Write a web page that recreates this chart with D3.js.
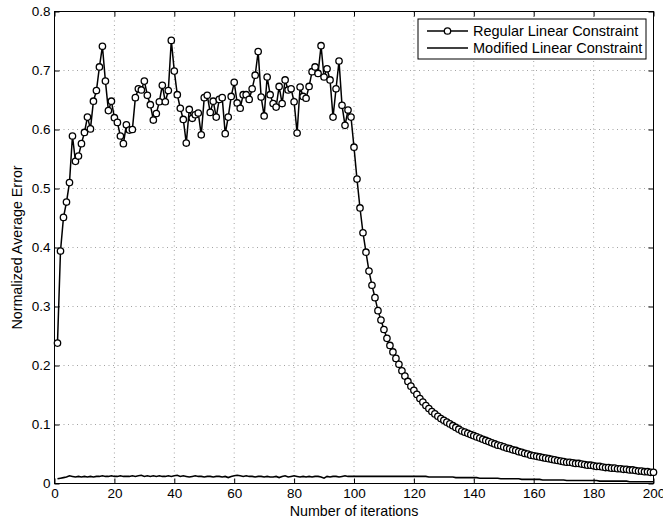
<!DOCTYPE html>
<html>
<head>
<meta charset="utf-8">
<script src="https://cdn.jsdelivr.net/npm/d3@7"></script>
<style>
  body { margin: 0; background: #fff; }
  svg text { font-family: "Liberation Sans", Arial, Helvetica, sans-serif; }
</style>
</head>
<body>
<div id="chart"></div>
<script>
// iteration numbers 1..200
const iterations = d3.range(1, 201);

// Regular Linear Constraint (10 per row)
const regular = [
  0.238,0.394,0.451,0.477,0.510,0.589,0.546,0.555,0.576,0.595,
  0.621,0.601,0.648,0.666,0.706,0.741,0.682,0.632,0.648,0.620,
  0.612,0.589,0.576,0.608,0.599,0.600,0.654,0.669,0.667,0.682,
  0.658,0.642,0.616,0.627,0.647,0.675,0.647,0.666,0.751,0.699,
  0.659,0.636,0.617,0.577,0.634,0.619,0.625,0.628,0.591,0.654,
  0.658,0.629,0.648,0.621,0.651,0.654,0.593,0.621,0.656,0.680,
  0.645,0.636,0.659,0.659,0.651,0.669,0.692,0.732,0.655,0.623,
  0.689,0.659,0.644,0.638,0.673,0.644,0.684,0.667,0.669,0.647,
  0.594,0.672,0.656,0.653,0.673,0.698,0.706,0.695,0.742,0.689,
  0.703,0.684,0.621,0.669,0.716,0.641,0.607,0.633,0.621,0.570,
  0.516,0.467,0.425,0.392,0.360,0.336,0.315,0.293,0.277,0.261,
  0.246,0.234,0.223,0.212,0.202,0.191,0.182,0.173,0.165,0.158,
  0.151,0.144,0.138,0.132,0.127,0.122,0.118,0.114,0.110,0.107,
  0.104,0.101,0.098,0.095,0.092,0.089,0.087,0.085,0.083,0.081,
  0.079,0.077,0.075,0.073,0.071,0.069,0.067,0.065,0.064,0.062,
  0.060,0.059,0.057,0.056,0.054,0.053,0.051,0.050,0.048,0.047,
  0.046,0.045,0.044,0.043,0.042,0.041,0.040,0.039,0.038,0.037,
  0.036,0.036,0.035,0.034,0.034,0.033,0.032,0.031,0.031,0.030,
  0.029,0.029,0.028,0.027,0.027,0.026,0.026,0.025,0.025,0.024,
  0.024,0.023,0.023,0.022,0.021,0.021,0.020,0.020,0.019,0.019
];

// Modified Linear Constraint
const modified = [
  0.008,0.009,0.010,0.011,0.013,0.012,0.011,0.012,0.011,0.012,
  0.011,0.012,0.011,0.012,0.012,0.013,0.012,0.012,0.013,0.012,
  0.012,0.013,0.012,0.012,0.012,0.013,0.012,0.013,0.014,0.012,
  0.013,0.012,0.013,0.012,0.013,0.012,0.012,0.013,0.012,0.013,
  0.014,0.012,0.013,0.012,0.011,0.012,0.013,0.012,0.012,0.011,
  0.012,0.012,0.011,0.012,0.012,0.011,0.012,0.010,0.012,0.013,
  0.014,0.013,0.012,0.013,0.012,0.012,0.011,0.012,0.012,0.011,
  0.012,0.011,0.011,0.012,0.010,0.012,0.013,0.011,0.012,0.013,
  0.012,0.011,0.012,0.011,0.012,0.011,0.012,0.012,0.011,0.009,
  0.012,0.011,0.012,0.012,0.011,0.012,0.013,0.012,0.012,0.012,
  0.012,0.012,0.012,0.012,0.012,0.012,0.012,0.012,0.012,0.012,
  0.012,0.012,0.012,0.012,0.012,0.012,0.012,0.012,0.012,0.012,
  0.012,0.012,0.012,0.012,0.011,0.011,0.011,0.011,0.011,0.011,
  0.011,0.011,0.011,0.010,0.010,0.010,0.010,0.010,0.010,0.010,
  0.010,0.009,0.009,0.009,0.009,0.009,0.009,0.009,0.008,0.008,
  0.008,0.008,0.008,0.008,0.008,0.007,0.007,0.007,0.007,0.007,
  0.007,0.007,0.006,0.006,0.006,0.006,0.006,0.006,0.006,0.006,
  0.005,0.005,0.005,0.005,0.005,0.005,0.005,0.005,0.005,0.005,
  0.005,0.004,0.004,0.004,0.004,0.004,0.004,0.004,0.004,0.004,
  0.004,0.003,0.003,0.003,0.003,0.003,0.003,0.003,0.003,0.003
];

const xTicks = [0, 20, 40, 60, 80, 100, 120, 140, 160, 180, 200];
const yTicks = [0, 0.1, 0.2, 0.3, 0.4, 0.5, 0.6, 0.7, 0.8];
const seriesNames = ['Regular Linear Constraint', 'Modified Linear Constraint'];

const chart_width = 663, chart_height = 520;
const plotLeft = 54.5, plotRight = 653.5, plotTop = 11.5, plotBottom = 483.5;

const svg = d3.select('#chart').append('svg')
    .attr('width', chart_width)
    .attr('height', chart_height);

const x_scale = d3.scaleLinear().domain([0, 200]).range([plotLeft, plotRight]);
const y_scale = d3.scaleLinear().domain([0, 0.8]).range([plotBottom, plotTop]);

// dotted grid
const grid = svg.append('g').attr('stroke', '#8c8c8c').attr('stroke-width', 0.8)
    .attr('stroke-dasharray', '1,3.5');
grid.selectAll('.gx').data(xTicks.slice(1, -1)).join('line')
    .attr('x1', d => x_scale(d)).attr('x2', d => x_scale(d))
    .attr('y1', plotTop).attr('y2', plotBottom);
grid.selectAll('.gy').data(yTicks.slice(1, -1)).join('line')
    .attr('y1', d => y_scale(d)).attr('y2', d => y_scale(d))
    .attr('x1', plotLeft).attr('x2', plotRight);

// axes with inward ticks (matlab style)
const fmt = d => d === 0 ? '0' : d3.format('.1f')(d);
svg.append('g').attr('transform', `translate(0,${plotBottom})`)
    .call(d3.axisBottom(x_scale).tickValues(xTicks).tickSizeInner(-5).tickSizeOuter(0).tickPadding(5));
svg.append('g').attr('transform', `translate(${plotLeft},0)`)
    .call(d3.axisLeft(y_scale).tickValues(yTicks).tickFormat(fmt).tickSizeInner(-5).tickSizeOuter(0).tickPadding(4));
svg.append('g').attr('transform', `translate(0,${plotTop})`)
    .call(d3.axisTop(x_scale).tickValues(xTicks).tickSizeInner(-5).tickSizeOuter(0).tickFormat(''));
svg.append('g').attr('transform', `translate(${plotRight},0)`)
    .call(d3.axisRight(y_scale).tickValues(yTicks).tickSizeInner(-5).tickSizeOuter(0).tickFormat(''));

svg.selectAll('.domain').remove();
svg.selectAll('.tick line').attr('stroke', '#000').attr('stroke-width', 1);
svg.selectAll('.tick text').attr('font-size', 13.5).attr('fill', '#000')
    .attr('font-family', '"Liberation Sans", Arial, sans-serif');

// box
svg.append('rect')
    .attr('x', plotLeft).attr('y', plotTop)
    .attr('width', plotRight - plotLeft).attr('height', plotBottom - plotTop)
    .attr('fill', 'none').attr('stroke', '#000').attr('stroke-width', 1);

// lines
const line = d3.line().x((d, i) => x_scale(iterations[i])).y(d => y_scale(d));
svg.append('path').datum(modified)
    .attr('fill', 'none').attr('stroke', '#000').attr('stroke-width', 1.6)
    .attr('d', line);
svg.append('path').datum(regular)
    .attr('fill', 'none').attr('stroke', '#000').attr('stroke-width', 1.5)
    .attr('d', line);
svg.append('g').selectAll('circle').data(regular).join('circle')
    .attr('cx', (d, i) => x_scale(iterations[i]))
    .attr('cy', d => y_scale(d))
    .attr('r', 3.2)
    .attr('fill', '#fff').attr('stroke', '#000').attr('stroke-width', 1.3);

// axis titles
svg.append('text')
    .attr('x', (plotLeft + plotRight) / 2).attr('y', 516)
    .attr('text-anchor', 'middle').attr('font-size', 14.3)
    .text('Number of iterations');
svg.append('text')
    .attr('transform', `translate(22,${(plotTop + plotBottom) / 2}) rotate(-90)`)
    .attr('text-anchor', 'middle').attr('font-size', 14.3)
    .text('Normalized Average Error');

// legend
const legend = svg.append('g');
legend.append('rect')
    .attr('x', 418).attr('y', 19).attr('width', 228).attr('height', 40)
    .attr('fill', '#fff').attr('stroke', '#000').attr('stroke-width', 1);
seriesNames.forEach((name, i) => {
    const ly = 31 + i * 17;
    legend.append('line')
        .attr('x1', 427).attr('x2', 468).attr('y1', ly).attr('y2', ly)
        .attr('stroke', '#000').attr('stroke-width', 1.5);
    if (i === 0) {
        legend.append('circle').attr('cx', 447.5).attr('cy', ly).attr('r', 3.2)
            .attr('fill', '#fff').attr('stroke', '#000').attr('stroke-width', 1.3);
    }
    legend.append('text')
        .attr('x', 473).attr('y', ly).attr('dy', '0.35em')
        .attr('font-size', 14.5)
        .text(name);
});
</script>
</body>
</html>
